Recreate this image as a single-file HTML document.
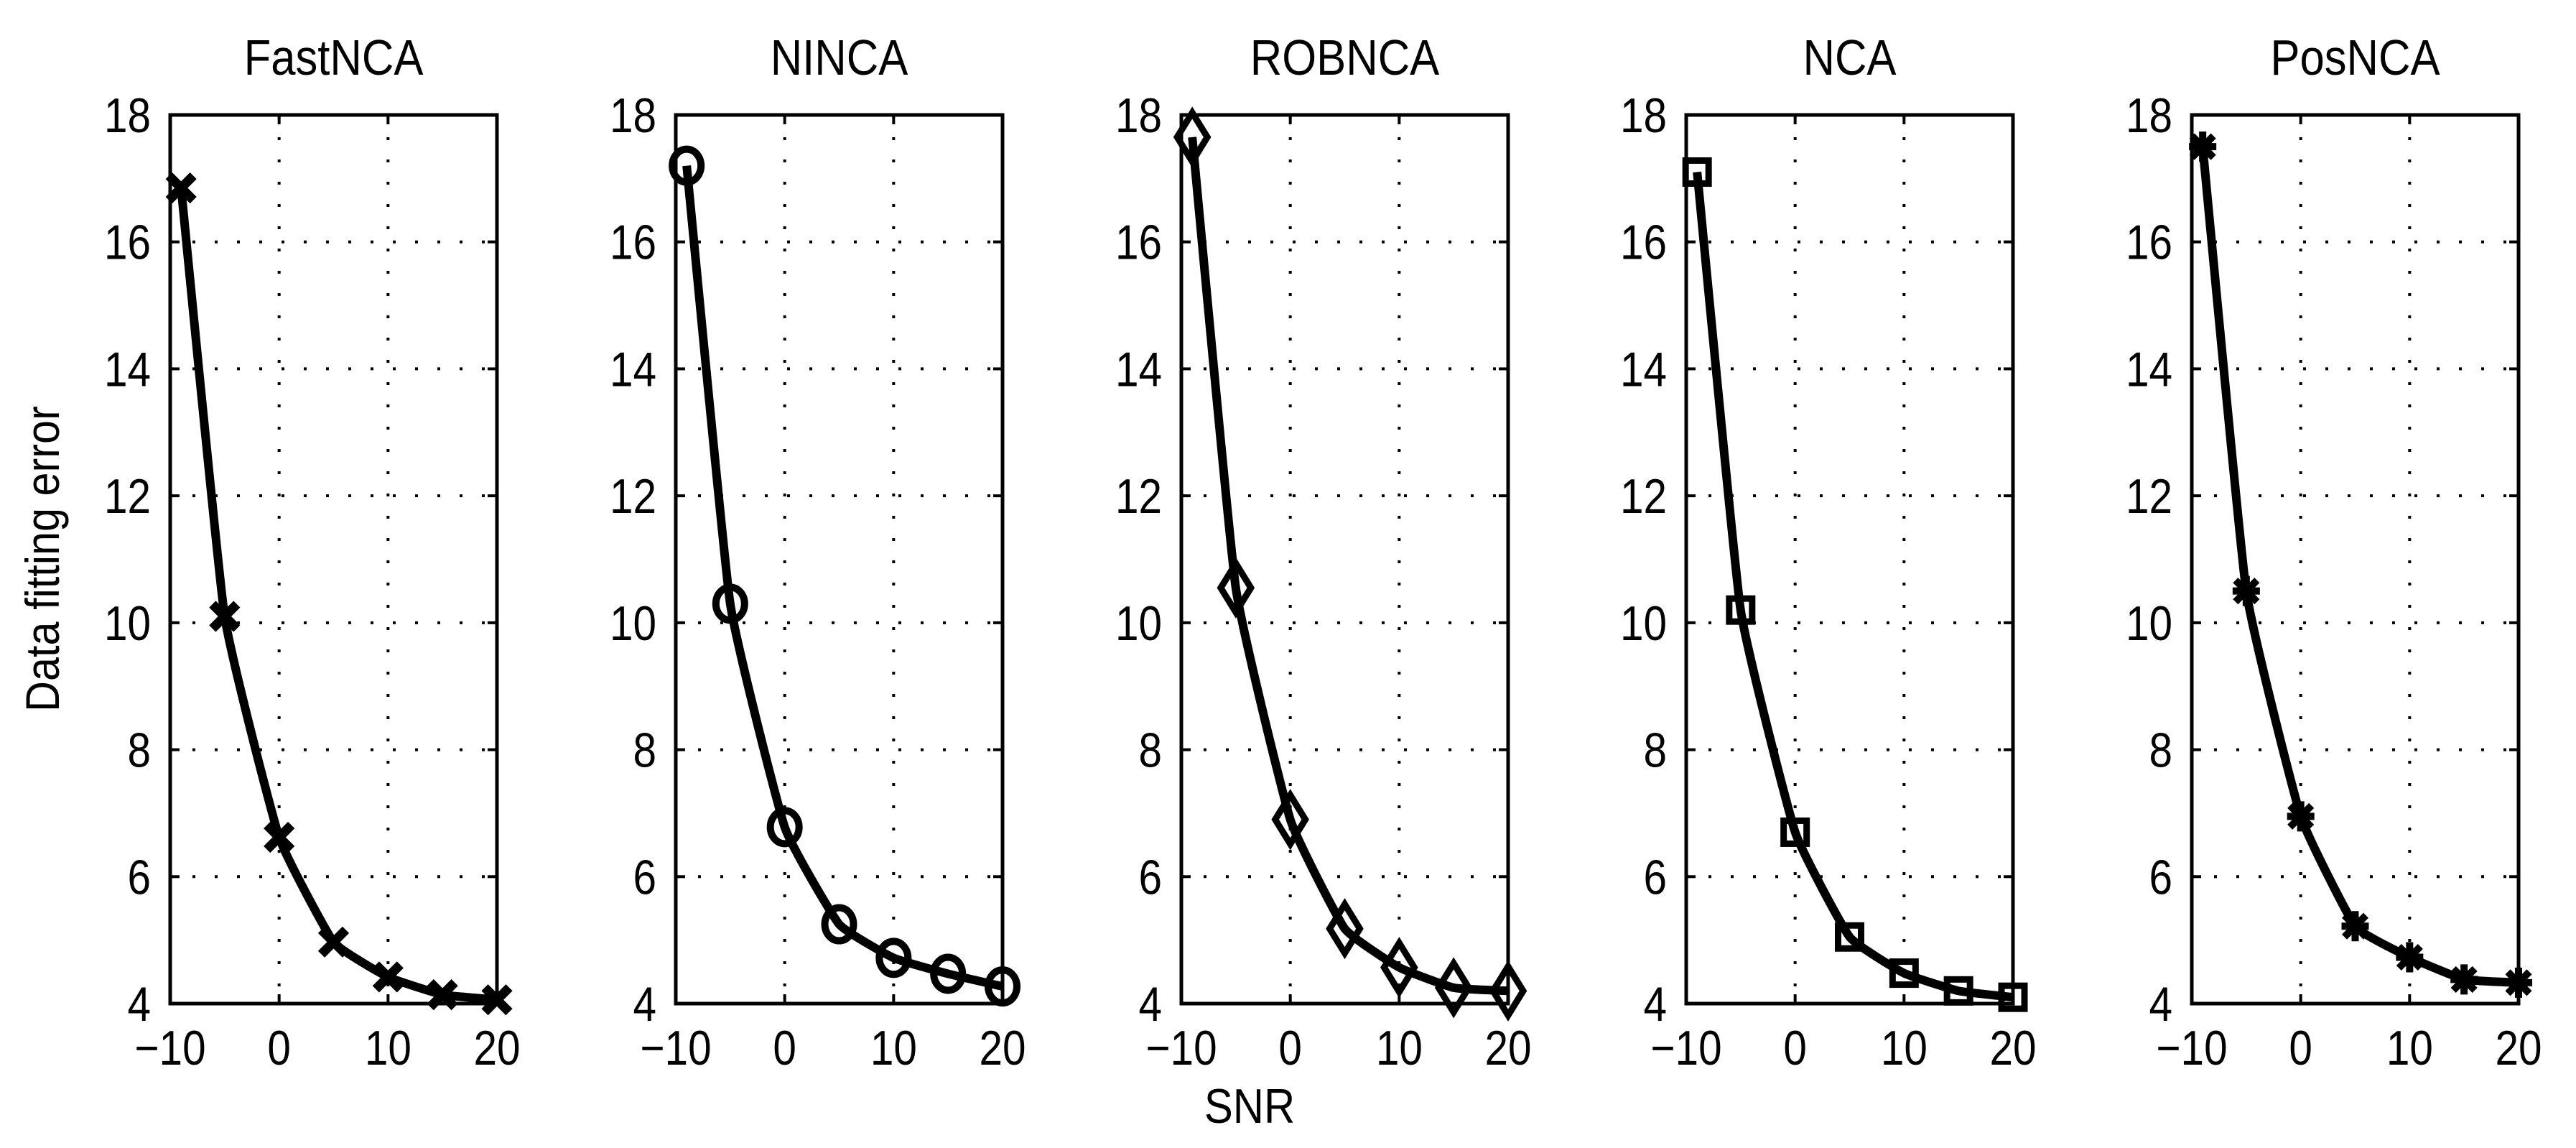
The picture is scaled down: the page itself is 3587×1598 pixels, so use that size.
<!DOCTYPE html>
<html><head><meta charset="utf-8"><style>
html,body{margin:0;padding:0;background:#fff;}
svg{display:block;}
text{font-family:"Liberation Sans",Arial,sans-serif;fill:#000;}
</style></head>
<body>
<svg id="fig" width="3587" height="1598" viewBox="0 0 3587 1598" xmlns="http://www.w3.org/2000/svg">
<rect width="3587" height="1598" fill="#fff"/>
<text transform="translate(82,778) rotate(-90) scale(0.9,1)" text-anchor="middle" font-size="66">Data fitting error</text>
<text transform="translate(1740,1563) scale(0.88,1)" text-anchor="middle" font-size="68">SNR</text>
</svg>
<script>
const titles = ["FastNCA","NINCA","ROBNCA","NCA","PosNCA"];
const markers = ["x","o","d","s","*"];
const snr = [-9, -5, 0, 5, 10, 15, 20];
const fastnca = [16.85, 10.1, 6.62, 4.97, 4.42, 4.14, 4.06];
const ninca = [17.2, 10.3, 6.78, 5.25, 4.72, 4.47, 4.27];
const robnca = [17.65, 10.55, 6.9, 5.18, 4.57, 4.25, 4.2];
const nca = [17.1, 10.2, 6.7, 5.05, 4.48, 4.2, 4.1];
const posnca = [17.5, 10.5, 6.95, 5.22, 4.73, 4.38, 4.33];
const xTicks = [-10, 0, 10, 20];
const yTicks = [4, 6, 8, 10, 12, 14, 16, 18];
const series = [fastnca, ninca, robnca, nca, posnca];

const NS = "http://www.w3.org/2000/svg";
const svg = document.getElementById('fig');
const lefts = [237, 941, 1645, 2348, 3052];
const W = 455, top0 = 160, bot0 = 1397;
function mk(tag, attrs, parent){const e=document.createElementNS(NS,tag);for(const k in attrs)e.setAttribute(k,attrs[k]);(parent||svg).appendChild(e);return e;}

series.forEach((vals, p) => {
  const L = lefts[p];
  const g = mk('g', {});
  
  
  const sx = v => L + (v - (-10)) / 30 * W;
  const sy = v => bot0 - (v - 4) / 14 * (bot0 - top0);
  xTicks.forEach(t => {
    if (t === -10 || t === 20) return;
    const gl = mk('line', {x1:sx(t), x2:sx(t), y1:top0, y2:bot0, stroke:'#000', 'stroke-width':4, 'stroke-dasharray':'4 27'}, g);
    
    
  });
  yTicks.forEach(t => {
    if (t === 4 || t === 18) return;
    const gl = mk('line', {x1:L, x2:L+W, y1:sy(t), y2:sy(t), stroke:'#000', 'stroke-width':4, 'stroke-dasharray':'4 27'}, g);
    
    
  });
  xTicks.forEach(t => {
    mk('line', {x1:sx(t), x2:sx(t), y1:bot0, y2:bot0-13, stroke:'#000', 'stroke-width':4}, g);
    mk('line', {x1:sx(t), x2:sx(t), y1:top0, y2:top0+13, stroke:'#000', 'stroke-width':4}, g);
    const tx = mk('text', {transform:`translate(${sx(t)},1482) scale(0.86,1)`, 'text-anchor':'middle', 'font-size':68}, g);
    tx.textContent = t < 0 ? '\u2212' + Math.abs(t) : String(t);
    
    
  });
  yTicks.forEach(t => {
    mk('line', {x1:L, x2:L+13, y1:sy(t), y2:sy(t), stroke:'#000', 'stroke-width':4}, g);
    mk('line', {x1:L+W, x2:L+W-13, y1:sy(t), y2:sy(t), stroke:'#000', 'stroke-width':4}, g);
    const ty = mk('text', {transform:`translate(${L-27},${sy(t)+24}) scale(0.86,1)`, 'text-anchor':'end', 'font-size':68}, g);
    ty.textContent = String(t);
    
    
  });
  const box = mk('rect', {x:L, y:top0, width:W, height:bot0-top0, fill:'none', stroke:'#000', 'stroke-width':5}, g);
  
  
  const tt = mk('text', {transform:`translate(${L+W/2},104) scale(0.88,1)`, 'text-anchor':'middle', 'font-size':70}, g);
  tt.textContent = titles[p];
  
  
  const P = snr.map((x,i) => [sx(x), sy(vals[i])]);
  let d = `M${P[0][0]},${P[0][1]}`;
  for (let i = 0; i < P.length - 1; i++) {
    const p0 = P[Math.max(i-1,0)], p1 = P[i], p2 = P[i+1], p3 = P[Math.min(i+2,P.length-1)];
    const k = 0.06;
    const c1 = [p1[0] + (p2[0]-p0[0])*k, p1[1] + (p2[1]-p0[1])*k];
    const c2 = [p2[0] - (p3[0]-p1[0])*k, p2[1] - (p3[1]-p1[1])*k];
    d += `C${c1[0].toFixed(1)},${c1[1].toFixed(1)} ${c2[0].toFixed(1)},${c2[1].toFixed(1)} ${p2[0].toFixed(1)},${p2[1].toFixed(1)}`;
  }
  const pl = mk('path', {d:d, fill:'none', stroke:'#000', 'stroke-width':12, 'stroke-linejoin':'round'}, g);
  
  
  snr.forEach((x,i) => {
    const cx = sx(x), cy = sy(vals[i]);
    const m = markers[p];
    let el;
    if (m === 'x') {
      el = mk('path', {d:`M${cx-17},${cy-17}L${cx+17},${cy+17}M${cx-17},${cy+17}L${cx+17},${cy-17}`, stroke:'#000', 'stroke-width':13, fill:'none'}, g);
    } else if (m === 'o') {
      el = mk('ellipse', {cx:cx, cy:cy, rx:20, ry:23, fill:'none', stroke:'#000', 'stroke-width':10}, g);
    } else if (m === 'd') {
      el = mk('path', {d:`M${cx},${cy-34}L${cx+21},${cy}L${cx},${cy+34}L${cx-21},${cy}Z`, fill:'none', stroke:'#000', 'stroke-width':9}, g);
    } else if (m === 's') {
      el = mk('rect', {x:cx-16, y:cy-16, width:32, height:32, fill:'none', stroke:'#000', 'stroke-width':9}, g);
    } else {
      el = mk('path', {d:`M${cx-19},${cy}L${cx+19},${cy}M${cx},${cy-21}L${cx},${cy+21}M${cx-15},${cy-15}L${cx+15},${cy+15}M${cx-15},${cy+15}L${cx+15},${cy-15}`, stroke:'#000', 'stroke-width':10, fill:'none'}, g);
    }
    
    
  });
});
</script>
</body></html>
